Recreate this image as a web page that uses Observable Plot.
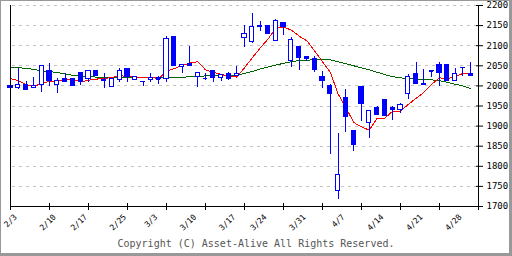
<!DOCTYPE html>
<html><head><meta charset="utf-8">
<script src="https://cdn.jsdelivr.net/npm/d3@7"></script>
<script src="https://cdn.jsdelivr.net/npm/@observablehq/plot@0.6"></script>
<style>
html,body{margin:0;padding:0;background:#fff;}
#wrap{position:relative;width:512px;height:256px;overflow:hidden;background:#fff;}
#frame{position:absolute;left:0;top:0;width:512px;height:256px;box-sizing:border-box;border-style:solid;border-color:#999;border-width:1px 3px 3px 1px;pointer-events:none;}
#cap{position:absolute;left:0;top:232px;width:512px;height:24px;text-align:center;font:10px "DejaVu Sans Mono",monospace;color:#555;line-height:24px;}
#chart svg{display:block;}
</style></head>
<body>
<div id="wrap"><div id="chart"></div><div id="cap">Copyright (C) Asset-Alive All Rights Reserved.</div><div id="frame"></div></div>
<script>
const opens  = [2000,1995,2003,1995,2003,2038,2001,2018,2018,2031,2017,2036,2013,1997,2015,2042,2015,2011,2015,2019,2017,2121,2048,2055,2022,2019,2038,2020,2030,2024,2120,2110,2149,2149,2111,2157,2063,2098,2073,2068,2022,2000,1738,1969,1889,1997,1908,1946,1965,1945,1941,1979,2030,2005,2036,2053,2053,2012,2044,2030];
const highs  = [2000,2044,2011,2021,2050,2056,2019,2031,2018,2031,2038,2036,2031,2016,2043,2042,2021,2011,2030,2024,2123,2121,2052,2099,2031,2030,2038,2026,2034,2048,2150,2180,2160,2149,2165,2157,2121,2098,2073,2073,2037,2003,1881,1990,1889,1999,1938,1949,1965,1949,1955,2028,2059,2040,2038,2059,2053,2043,2045,2059];
const lows   = [1994,1990,1989,1995,1984,1998,1982,2008,2000,2000,2009,2024,1994,1997,2008,2009,2015,1999,2009,2004,2009,2049,2030,2049,1995,2013,2009,2010,2013,2024,2095,2106,2135,2128,2111,2125,2047,2038,2061,2034,1994,1829,1717,1883,1838,1911,1868,1928,1925,1914,1931,1965,2005,2001,2020,1999,2012,2012,2024,2024];
const closes = [1994,2003,1989,2000,2050,2011,2011,2010,2000,2010,2038,2025,2015,2016,2036,2022,2021,2011,2020,2017,2117,2049,2052,2049,2031,2019,2020,2026,2017,2030,2130,2146,2148,2128,2161,2146,2113,2070,2068,2039,2012,1980,1779,1922,1852,1955,1938,1928,1925,1940,1953,2022,2005,2001,2037,2033,2012,2030,2045,2024];
const ma5    = [2018,2013,2003,1998,2007,2011,2012,2016,2016,2010,2014,2017,2018,2021,2026,2023,2022,2021,2022,2018,2037,2043,2051,2057,2060,2040,2034,2029,2023,2022,2045,2070,2094,2116,2143,2146,2139,2124,2112,2087,2060,2034,1980,1946,1909,1898,1890,1919,1920,1937,1937,1954,1969,1984,2004,2020,2018,2023,2031,2029];
const ma25   = [2045,2045,2044,2041,2037,2036,2033,2030,2026,2024,2023,2022,2022,2021,2020,2020,2020,2020,2020,2020,2020,2020,2021,2023,2023,2025,2026,2026,2026,2027,2031,2036,2042,2047,2052,2056,2060,2063,2064,2065,2066,2065,2060,2055,2050,2045,2040,2034,2028,2023,2020,2018,2017,2016,2015,2013,2009,2004,2000,1993];
const dateLabels = ["2/3","2/10","2/17","2/25","3/3","3/10","3/17","3/24","3/31","4/7","4/14","4/21","4/28"];
const labelIdx   = [0,5,9,14,18,23,28,32,37,42,47,52,57];
const xTicks = [0,5,10,15,20,25,30,35,40,45,50,55,60];
const yTicks = [1700,1750,1800,1850,1900,1950,2000,2050,2100,2150,2200];

const candles = opens.map((o,i)=>({i, open:o, high:highs[i], low:lows[i], close:closes[i]}));
const up = candles.filter(d=>d.close>d.open);
const down = candles.filter(d=>d.close<d.open);
const flat = candles.filter(d=>Math.abs(d.close-d.open)<3);
const hw = 0.27;
const ma5d = ma5.map((v,i)=>({i,v}));
const ma25d = ma25.map((v,i)=>({i,v}));
const labels = dateLabels.map((t,k)=>({i:labelIdx[k], t}));

const chart = Plot.plot({
  width:512, height:232,
  marginLeft:10, marginRight:34, marginTop:5, marginBottom:26,
  x:{type:"linear", domain:[0,60], label:null},
  y:{domain:[1700,2200], label:null},
  style:{fontFamily:"'DejaVu Sans Mono', monospace", fontSize:"9px", background:"white", color:"black"},
  marks:[
    Plot.gridY(yTicks.filter(v=>v>1700), {stroke:"#c4c4c4", strokeOpacity:1, strokeDasharray:"3,4", insetLeft:2, insetRight:2, shapeRendering:"crispEdges"}),
    Plot.line(ma25d, {x:"i", y:"v", stroke:"#006400", strokeWidth:1, shapeRendering:"crispEdges"}),
    Plot.line(ma5d, {x:"i", y:"v", stroke:"#ff0000", strokeWidth:1, shapeRendering:"crispEdges"}),
    Plot.ruleX(candles, {x:"i", y1:"low", y2:"high", stroke:"#0000ff", shapeRendering:"crispEdges"}),
    Plot.rect(up, {x1:d=>d.i-hw, x2:d=>d.i+hw, y1:"open", y2:"close", fill:"white", stroke:"#0000ff", shapeRendering:"crispEdges"}),
    Plot.rect(down, {x1:d=>d.i-hw, x2:d=>d.i+hw, y1:"open", y2:"close", fill:"#0000ff", stroke:"#0000ff", shapeRendering:"crispEdges"}),
    Plot.ruleY(flat, {x1:d=>d.i-hw, x2:d=>d.i+hw, y:"close", stroke:"#0000ff", shapeRendering:"crispEdges"}),
    Plot.ruleX([0,60], {stroke:"black", shapeRendering:"crispEdges"}),
    Plot.ruleY([1700], {stroke:"black", shapeRendering:"crispEdges"}),
    Plot.axisY({anchor:"right", ticks:yTicks, tickSize:7, dx:-3, tickPadding:4, tickFormat:d=>String(d), label:null}),
    Plot.axisX({ticks:xTicks, tickSize:7, dy:-3, tickFormat:()=>"", label:null}),
    Plot.text(labels, {x:"i", frameAnchor:"bottom", text:"t", rotate:-45, textAnchor:"end", dx:7, dy:11, fontSize:8, fill:"black"})
  ]
});
document.getElementById("chart").appendChild(chart);
</script>
</body></html>
